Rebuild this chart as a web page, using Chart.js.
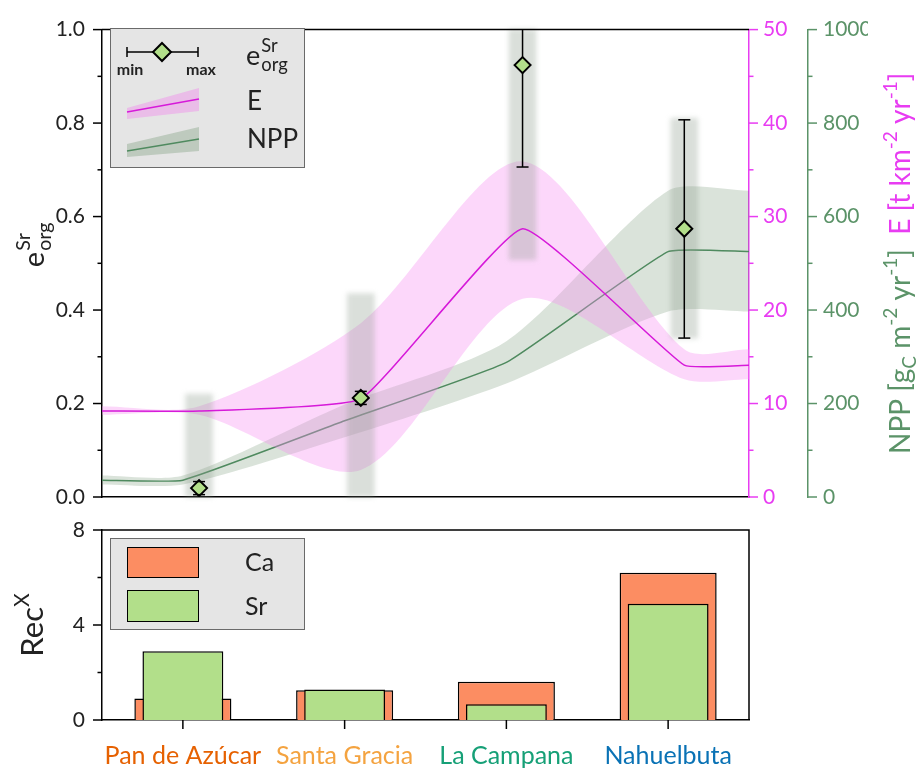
<!DOCTYPE html>
<html>
<head>
<meta charset="utf-8">
<script src="https://cdn.jsdelivr.net/npm/chart.js@4.4.0/dist/chart.umd.min.js"></script>
<style>
  html, body { margin: 0; padding: 0; background: #fff; }
  #wrap { position: relative; width: 917px; height: 774px; }
  #wrap canvas { position: absolute; left: 0; top: 0; }
</style>
</head>
<body>
<div id="wrap">
  <canvas id="topChart" width="917" height="774"></canvas>
  <canvas id="recChart" width="917" height="774"></canvas>
</div>
<script>
// Sites along the climate gradient
const sites = ['Pan de Azúcar', 'Santa Gracia', 'La Campana', 'Nahuelbuta'];
const siteColors = ['#e66101', '#f4a340', '#16a077', '#0a72b5'];

// e_org^Sr per site: value, min/max whiskers and shaded span
const ePos = [0.6, 1.6, 2.6, 3.6];
const eOrg = [0.019, 0.212, 0.924, 0.574];
const eMin = [0.005, 0.198, 0.706, 0.340];
const eMax = [0.033, 0.226, 1.05, 0.807];
const spanLow = [0, 0, 0.508, 0.34];
const spanHigh = [0.22, 0.435, 1.0, 0.81];

// Erosion rate E [t km-2 yr-1]
const erosionPos = [0, 0.6, 1.6, 2.6, 3.6, 4];
const erosion = [9.2, 9.2, 10.5, 28.7, 14.1, 14.1];
const erosionLow = [8.8, 8.8, 2.9, 21.2, 12.6, 12.6];
const erosionHigh = [9.7, 9.7, 18.6, 35.9, 15.8, 15.8];

// Net primary productivity NPP [gC m-2 yr-1]
const nppPos = [0, 0.5, 1.5, 2.5, 3.5, 4];
const npp = [36, 36, 163, 288, 525, 525];
const nppLow = [27, 27, 128, 243, 397, 397];
const nppHigh = [46, 46, 198, 333, 655, 655];

// Recycling factors Rec^X
const recCa = [0.91, 1.25, 1.61, 6.2];
const recSr = [2.9, 1.28, 0.66, 4.9];

const FONT = 'Lato, "Open Sans", sans-serif';
const PINK = '#e83cf2';
const MAGENTA = '#d61ad9';
const GREEN = '#5b9368';
const GREEN_LINE = '#4f8a5f';
const TEXT = '#222';

const pts = (xs, ys) => xs.map((x, i) => ({ x, y: ys[i] }));

// Text with sub/superscripts, optionally rotated to read bottom-up
function richText(ctx, parts, x, y, size, rotated, align) {
  const font = s => `${s}px ${FONT}`;
  const small = size * 0.68;
  ctx.save();
  ctx.translate(x, y);
  if (rotated) ctx.rotate(-Math.PI / 2);
  ctx.textBaseline = 'alphabetic';
  ctx.textAlign = 'left';
  const widths = parts.map(p => {
    if (p.stack) {
      ctx.font = font(small);
      return Math.max(ctx.measureText(p.stack[0]).width, ctx.measureText(p.stack[1]).width);
    }
    ctx.font = font(p.pos ? small : size);
    return ctx.measureText(p.text).width;
  });
  const total = widths.reduce((a, b) => a + b, 0);
  let cx = align === 'left' ? 0 : -total / 2;
  const base = size * 0.35;
  parts.forEach((p, i) => {
    ctx.fillStyle = p.color || TEXT;
    if (p.stack) {
      ctx.font = font(small);
      ctx.fillText(p.stack[0], cx + 1, base - size * 0.48);
      ctx.fillText(p.stack[1], cx + 1, base + size * 0.22);
    } else {
      ctx.font = font(p.pos ? small : size);
      const dy = p.pos === 'sup' ? -size * 0.45 : p.pos === 'sub' ? size * 0.22 : 0;
      ctx.fillText(p.text, cx, base + dy);
    }
    cx += widths[i];
  });
  ctx.restore();
}

// Major/minor tick marks (major ones carry a label)
const tickMarks = {
  id: 'tickMarks',
  afterDraw(chart, args, opts) {
    const ctx = chart.ctx;
    (opts.axes || []).forEach(a => {
      const s = chart.scales[a.id];
      ctx.save();
      ctx.strokeStyle = a.color;
      ctx.lineWidth = 1.5;
      s.ticks.forEach((t, i) => {
        const p = s.getPixelForTick(i);
        const len = t.label !== '' ? 9 : 4.5;
        ctx.beginPath();
        if (s.position === 'left') { ctx.moveTo(s.right - len, p); ctx.lineTo(s.right, p); }
        else if (s.position === 'right') { ctx.moveTo(s.left, p); ctx.lineTo(s.left + len, p); }
        else { ctx.moveTo(p, s.top); ctx.lineTo(p, s.top + len); }
        ctx.stroke();
      });
      ctx.restore();
    });
  }
};

// Blurred spans and min/max whiskers
const markExtras = {
  id: 'markExtras',
  beforeDatasetDraw(chart, args) {
    const ds = chart.data.datasets[args.index];
    const ctx = chart.ctx;
    if (ds.blur) {
      ctx.save();
      ctx.filter = `blur(${ds.blur}px)`;
    }
    if (ds.whiskers) {
      const xs = chart.scales.x, ys = chart.scales.y, area = chart.chartArea;
      ctx.save();
      ctx.beginPath();
      ctx.rect(area.left, area.top, area.right - area.left, area.bottom - area.top);
      ctx.clip();
      ctx.strokeStyle = '#000';
      ctx.lineWidth = 1.5;
      ePos.forEach((x, i) => {
        const px = xs.getPixelForValue(x);
        ctx.beginPath();
        ctx.moveTo(px, ys.getPixelForValue(eMin[i]));
        ctx.lineTo(px, ys.getPixelForValue(eMax[i]));
        ctx.stroke();
      });
      ctx.restore();
    }
  },
  afterDatasetDraw(chart, args) {
    const ds = chart.data.datasets[args.index];
    const ctx = chart.ctx;
    if (ds.blur) ctx.restore();
    if (ds.whiskers) {
      const xs = chart.scales.x, ys = chart.scales.y;
      ctx.save();
      ctx.strokeStyle = '#000';
      ctx.lineWidth = 1.5;
      ePos.forEach((x, i) => {
        const px = xs.getPixelForValue(x);
        [eMin[i], eMax[i]].forEach(v => {
          if (v > ys.max || v < ys.min) return;
          const py = ys.getPixelForValue(v);
          ctx.beginPath();
          ctx.moveTo(px - 6, py);
          ctx.lineTo(px + 6, py);
          ctx.stroke();
        });
      });
      ctx.restore();
    }
  }
};

// Frame, axis titles and legend of the upper panel
const topDecor = {
  id: 'topDecor',
  afterDraw(chart) {
    const ctx = chart.ctx;
    const a = chart.chartArea;
    ctx.save();
    ctx.strokeStyle = '#000';
    ctx.lineWidth = 1.5;
    ctx.beginPath();
    ctx.moveTo(a.left, a.top);
    ctx.lineTo(a.right, a.top);
    ctx.stroke();
    ctx.restore();

    const midY = (a.top + a.bottom) / 2;
    richText(ctx, [{ text: 'e' }, { stack: ['Sr', 'org'] }], 34, midY - 18, 29, true);
    richText(ctx, [
      { text: 'NPP [g', color: GREEN }, { text: 'C', color: GREEN, pos: 'sub' },
      { text: ' m', color: GREEN }, { text: '-2', color: GREEN, pos: 'sup' },
      { text: ' yr', color: GREEN }, { text: '-1', color: GREEN, pos: 'sup' },
      { text: ']  ', color: GREEN },
      { text: 'E [t km', color: PINK }, { text: '-2', color: PINK, pos: 'sup' },
      { text: ' yr', color: PINK }, { text: '-1', color: PINK, pos: 'sup' },
      { text: ']', color: PINK }
    ], 900, midY, 28, true);

    // legend
    ctx.save();
    ctx.fillStyle = '#e5e5e5';
    ctx.strokeStyle = '#6a6a6a';
    ctx.lineWidth = 1;
    ctx.fillRect(110.5, 28.5, 194, 139);
    ctx.strokeRect(110.5, 28.5, 194, 139);

    // whisker sample
    ctx.strokeStyle = '#000';
    ctx.lineWidth = 1.5;
    ctx.beginPath();
    ctx.moveTo(127, 52); ctx.lineTo(198, 52);
    ctx.moveTo(127, 47); ctx.lineTo(127, 57);
    ctx.moveTo(198, 47); ctx.lineTo(198, 57);
    ctx.stroke();
    ctx.beginPath();
    ctx.moveTo(162, 43); ctx.lineTo(171, 52); ctx.lineTo(162, 61); ctx.lineTo(153, 52); ctx.closePath();
    ctx.fillStyle = '#b2df8a';
    ctx.fill();
    ctx.lineWidth = 2;
    ctx.stroke();
    ctx.fillStyle = TEXT;
    ctx.font = `bold 16px ${FONT}`;
    ctx.textAlign = 'center';
    ctx.textBaseline = 'middle';
    ctx.fillText('min', 130, 70);
    ctx.fillText('max', 201, 70);

    // band samples
    const bandSample = (y0, y1, lo0, hi0, lo1, hi1, fillC, lineC) => {
      ctx.beginPath();
      ctx.moveTo(127, hi0); ctx.lineTo(199, hi1); ctx.lineTo(199, lo1); ctx.lineTo(127, lo0); ctx.closePath();
      ctx.fillStyle = fillC;
      ctx.fill();
      ctx.beginPath();
      ctx.moveTo(127, y0); ctx.lineTo(199, y1);
      ctx.strokeStyle = lineC;
      ctx.lineWidth = 1.5;
      ctx.stroke();
    };
    bandSample(112, 99, 119, 108, 111, 88, 'rgba(240,140,235,0.45)', MAGENTA);
    bandSample(151, 139, 157, 144, 151, 127, 'rgba(100,140,100,0.3)', GREEN_LINE);
    ctx.restore();

    richText(ctx, [{ text: 'e' }, { stack: ['Sr', 'org'] }], 246, 56, 27, false, 'left');
    richText(ctx, [{ text: 'E' }], 247, 101, 26, false, 'left');
    richText(ctx, [{ text: 'NPP' }], 247, 139, 26, false, 'left');
  }
};

new Chart(document.getElementById('topChart'), {
  type: 'line',
  data: {
    datasets: [
      { data: pts(nppPos, nppLow), yAxisID: 'yN', borderColor: 'transparent', borderWidth: 0,
        pointRadius: 0, fill: false, tension: 0.25, order: 9 },
      { data: pts(nppPos, nppHigh), yAxisID: 'yN', borderColor: 'transparent', borderWidth: 0,
        pointRadius: 0, fill: '-1', backgroundColor: 'rgba(100,140,100,0.24)', tension: 0.25, order: 8 },
      { data: pts(nppPos, npp), yAxisID: 'yN', borderColor: GREEN_LINE, borderWidth: 1.5,
        pointRadius: 0, fill: false, tension: 0.12, order: 7 },
      { data: pts(erosionPos, erosionLow), yAxisID: 'yE', borderColor: 'transparent', borderWidth: 0,
        pointRadius: 0, fill: false, tension: 0.28, order: 6 },
      { data: pts(erosionPos, erosionHigh), yAxisID: 'yE', borderColor: 'transparent', borderWidth: 0,
        pointRadius: 0, fill: '-1', backgroundColor: 'rgba(245,140,240,0.35)', tension: 0.28, order: 6 },
      { type: 'bar', data: ePos.map((x, i) => ({ x, y: [spanLow[i], spanHigh[i]] })), yAxisID: 'y',
        backgroundColor: 'rgba(140,155,140,0.32)', borderWidth: 0, barThickness: 27,
        clip: false, blur: 2.5, order: 5 },
      { data: pts(erosionPos, erosion), yAxisID: 'yE', borderColor: MAGENTA, borderWidth: 1.5,
        pointRadius: 0, fill: false, tension: 0.12, order: 4 },
      { data: pts(ePos, eOrg), yAxisID: 'y', showLine: false, pointStyle: 'rectRot', pointRadius: 8,
        pointBackgroundColor: '#b2df8a', pointBorderColor: '#000', pointBorderWidth: 2,
        whiskers: true, order: 1 }
    ]
  },
  options: {
    responsive: false,
    animation: false,
    devicePixelRatio: 1,
    layout: { padding: { left: 0, right: 49, top: 21, bottom: 277 } },
    plugins: { legend: { display: false }, tooltip: { enabled: false },
      tickMarks: { axes: [{ id: 'y', color: '#000' }, { id: 'yE', color: PINK }, { id: 'yN', color: GREEN }] } },
    scales: {
      x: { type: 'linear', min: 0, max: 4, offset: false,
        grid: { display: false, drawTicks: false }, ticks: { display: false },
        border: { color: '#000', width: 1.5 }, afterFit: s => { s.height = 0; } },
      y: { position: 'left', min: 0, max: 1,
        ticks: { stepSize: 0.1, autoSkip: false, padding: 17, color: TEXT, font: { family: FONT, size: 21 },
          callback: v => (Math.round(v * 10) % 2 === 0 ? v.toFixed(1) : '') },
        grid: { display: false, drawTicks: false }, border: { color: '#000', width: 1.5 },
        afterFit: s => { s.width = 102; } },
      yE: { position: 'right', min: 0, max: 50,
        ticks: { stepSize: 5, autoSkip: false, padding: 14, color: PINK, font: { family: FONT, size: 21 },
          callback: v => (v % 10 === 0 ? String(v) : '') },
        grid: { display: false, drawTicks: false }, border: { color: PINK, width: 1.5 },
        afterFit: s => { s.width = 59; } },
      yN: { position: 'right', min: 0, max: 1000,
        ticks: { stepSize: 100, autoSkip: false, padding: 15, color: GREEN, font: { family: FONT, size: 21 },
          callback: v => (v % 200 === 0 ? String(v) : '') },
        grid: { display: false, drawTicks: false }, border: { color: GREEN, width: 1.5 },
        afterFit: s => { s.width = 60; } }
    }
  },
  plugins: [tickMarks, markExtras, topDecor]
});

// Frame, title and legend of the recycling panel
const recDecor = {
  id: 'recDecor',
  afterDraw(chart) {
    const ctx = chart.ctx;
    const a = chart.chartArea;
    ctx.save();
    ctx.strokeStyle = '#000';
    ctx.lineWidth = 1.5;
    ctx.beginPath();
    ctx.moveTo(a.left, a.top); ctx.lineTo(a.right, a.top); ctx.lineTo(a.right, a.bottom);
    ctx.stroke();

    ctx.fillStyle = '#e5e5e5';
    ctx.strokeStyle = '#6a6a6a';
    ctx.lineWidth = 1;
    ctx.fillRect(110.5, 538.5, 194, 91);
    ctx.strokeRect(110.5, 538.5, 194, 91);
    ctx.strokeStyle = '#000';
    ctx.fillStyle = '#fc8d62';
    ctx.fillRect(127, 547, 71, 30);
    ctx.strokeRect(127.5, 547.5, 71, 30);
    ctx.fillStyle = '#b2df8a';
    ctx.fillRect(127, 590, 71, 31);
    ctx.strokeRect(127.5, 590.5, 71, 31);
    ctx.restore();

    richText(ctx, [{ text: 'Ca' }], 245, 562, 25, false, 'left');
    richText(ctx, [{ text: 'Sr' }], 245, 606, 25, false, 'left');
    richText(ctx, [{ text: 'Rec' }, { text: 'X', pos: 'sup' }], 32, (a.top + a.bottom) / 2, 31, true);
  }
};

new Chart(document.getElementById('recChart'), {
  type: 'bar',
  data: {
    labels: sites,
    datasets: [
      { label: 'Sr', data: recSr, backgroundColor: '#b2df8a', borderColor: '#000', borderWidth: 1.5,
        barPercentage: 0.5, categoryPercentage: 1, grouped: false, order: 0 },
      { label: 'Ca', data: recCa, backgroundColor: '#fc8d62', borderColor: '#000', borderWidth: 1.5,
        barPercentage: 0.6, categoryPercentage: 1, grouped: false, order: 1 }
    ]
  },
  options: {
    responsive: false,
    animation: false,
    devicePixelRatio: 1,
    layout: { padding: { left: 0, right: 168, top: 530, bottom: 0 } },
    plugins: { legend: { display: false }, tooltip: { enabled: false },
      tickMarks: { axes: [{ id: 'y', color: '#000' }, { id: 'x', color: '#000' }] } },
    scales: {
      x: { offset: true, grid: { display: false, drawTicks: false, offset: true },
        ticks: { padding: 21, autoSkip: false, maxRotation: 0, font: { family: FONT, size: 25 },
          color: c => siteColors[c.index] },
        border: { color: '#000', width: 1.5 }, afterFit: s => { s.height = 54; } },
      y: { min: 0, max: 8,
        ticks: { stepSize: 2, autoSkip: false, padding: 17, color: TEXT, font: { family: FONT, size: 21 },
          callback: v => (v % 4 === 0 ? String(v) : '') },
        grid: { display: false, drawTicks: false }, border: { color: '#000', width: 1.5 },
        afterFit: s => { s.width = 102; } }
    }
  },
  plugins: [tickMarks, recDecor]
});
</script>
</body>
</html>
